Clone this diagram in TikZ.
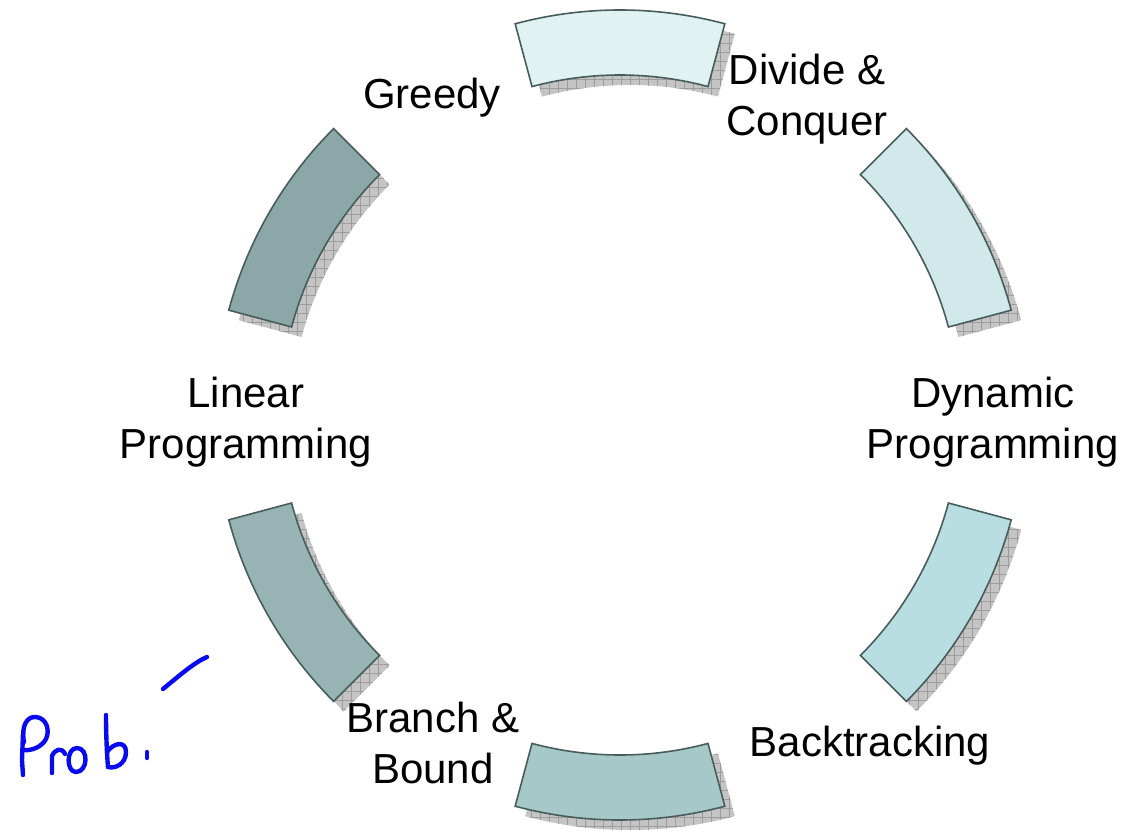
\documentclass[tikz,border=0pt]{standalone}
\usepackage{fontspec}
\setmainfont{Liberation Sans}
\usetikzlibrary{patterns.meta}
\definecolor{segA}{HTML}{E1F2F2}
\definecolor{segB}{HTML}{D1E9EB}
\definecolor{segC}{HTML}{B9DEE1}
\definecolor{segD}{HTML}{A7C8C9}
\definecolor{segE}{HTML}{97B3B4}
\definecolor{segF}{HTML}{8BA7A8}
\definecolor{segline}{HTML}{485C5C}
\definecolor{shadowfill}{HTML}{C4C4C4}
\definecolor{shadowgrid}{HTML}{9C9C9C}
\definecolor{inkblue}{HTML}{0A0AF0}
\newcommand{\segpath}[1]{%
  ({#1+15}:405) arc[start angle={#1+15}, end angle={#1-15}, radius=405]
  -- ({#1-15}:340) arc[start angle={#1-15}, end angle={#1+15}, radius=340] -- cycle}
\tikzset{
  segbox/.style={draw=segline, line width=1.6pt, line join=miter},
  segshadow/.style={fill=shadowfill, pattern={Hatch[distance=9pt, angle=0, line width=0.7pt]}, pattern color=shadowgrid},
  lbl/.style={font=\fontsize{42}{51}\selectfont, align=center, inner sep=0pt},
  ink/.style={draw=inkblue, line width=4.4pt, line cap=round, line join=round}
}
\begin{document}
\begin{tikzpicture}[x=1pt,y=1pt]
\useasboundingbox (-620,-420) rectangle (506,415);
% shadows
\foreach \a in {90,30,-30,-90,-150,150}{
  \fill[shadowfill, shift={(10,-10)}] \segpath{\a};
  \path[segshadow, shift={(10,-10)}] \segpath{\a};
}
% segments
\path[segbox, fill=segA] \segpath{90};
\path[segbox, fill=segB] \segpath{30};
\path[segbox, fill=segC] \segpath{-30};
\path[segbox, fill=segD] \segpath{-90};
\path[segbox, fill=segE] \segpath{-150};
\path[segbox, fill=segF] \segpath{150};
% labels
\node[lbl] (greedy) at (-188,317) {Greedy};
\node[lbl] (divide) at (187,316) {Divide \&\\Conquer};
\node[lbl] (dynamic) at (373,-7) {Dynamic\\Programming};
\node[lbl] (backtracking) at (250,-331) {Backtracking};
\node[lbl] (branch) at (-187,-328) {Branch \&\\Bound};
\node[lbl] (linear) at (-374,-7) {Linear\\Programming};
% handwriting
\begin{scope}[shift={(-620,415)}, y=-1pt]
  % P
  \draw[ink] (23,734) -- (22,760) -- (23,775);
  \draw[ink] (24,742) .. controls (21,726) and (27,716) .. (36,717)
    .. controls (47,718) and (50,731) .. (46,739)
    .. controls (42,747) and (31,751) .. (24,750);
  % r
  \draw[ink] (52,773) -- (52,756) .. controls (55,749) and (62,747) .. (65,754);
  % o
  \draw[ink] (77,748) .. controls (66,748) and (66,772) .. (76,772)
    .. controls (88,772) and (89,748) .. (77,748);
  % b
  \draw[ink] (106,715) .. controls (106,735) and (107,755) .. (108,767);
  \draw[ink] (107,752) .. controls (113,743) and (126,740) .. (126,752)
    .. controls (126,764) and (115,769) .. (108,767);
  % dot
  \draw[ink] (147,752) -- (147,758);
  % stroke
  \draw[ink] (163,689) .. controls (180,675) and (195,662) .. (207,657);
\end{scope}
\end{tikzpicture}
\end{document}
